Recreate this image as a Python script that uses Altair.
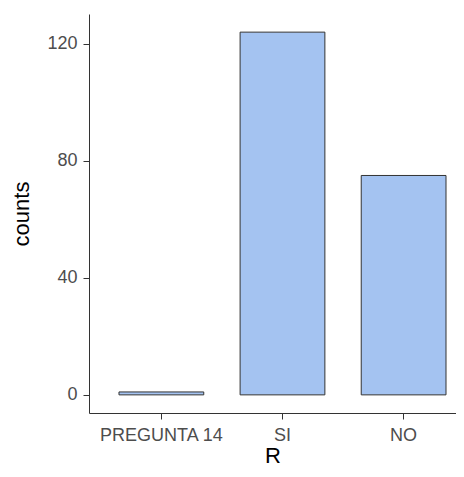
import altair as alt
import pandas as pd

categories = ["PREGUNTA 14", "SI", "NO"]
counts = [1, 124, 75]
y_ticks = [0, 40, 80, 120]

df = pd.DataFrame({"R": categories, "counts": counts})

FONT = "Liberation Sans"

chart = alt.Chart(df).mark_bar(
    fill="#a4c3f1", stroke="#333333", strokeWidth=1
).encode(
    x=alt.X(
        "R:N",
        sort=categories,
        scale=alt.Scale(paddingInner=0.3, paddingOuter=0.165, align=0.75),
        axis=alt.Axis(title="R", labelAngle=0, labelPadding=7, titlePadding=1),
    ),
    y=alt.Y(
        "counts:Q",
        scale=alt.Scale(domain=[-6.2, 130.2], nice=False, zero=False),
        axis=alt.Axis(title="counts", values=y_ticks, labelPadding=6, titlePadding=13),
    ),
    y2=alt.datum(0),
).properties(
    width=367,
    height=399,
    padding={"left": 81, "top": 6, "right": 0, "bottom": 56},
    autosize=alt.AutoSizeParams(type="none"),
).configure_view(
    stroke=None
).configure_axis(
    grid=False,
    domainColor="#333333",
    domainWidth=1,
    tickColor="#333333",
    tickWidth=1,
    tickSize=6,
    labelFont=FONT,
    labelFontSize=18,
    labelColor="#4d4d4d",
    titleFont=FONT,
    titleFontSize=22,
    titleFontWeight="normal",
    titleColor="#000000",
)

chart.save("out.html", embed_options={"renderer": "svg", "actions": False})
